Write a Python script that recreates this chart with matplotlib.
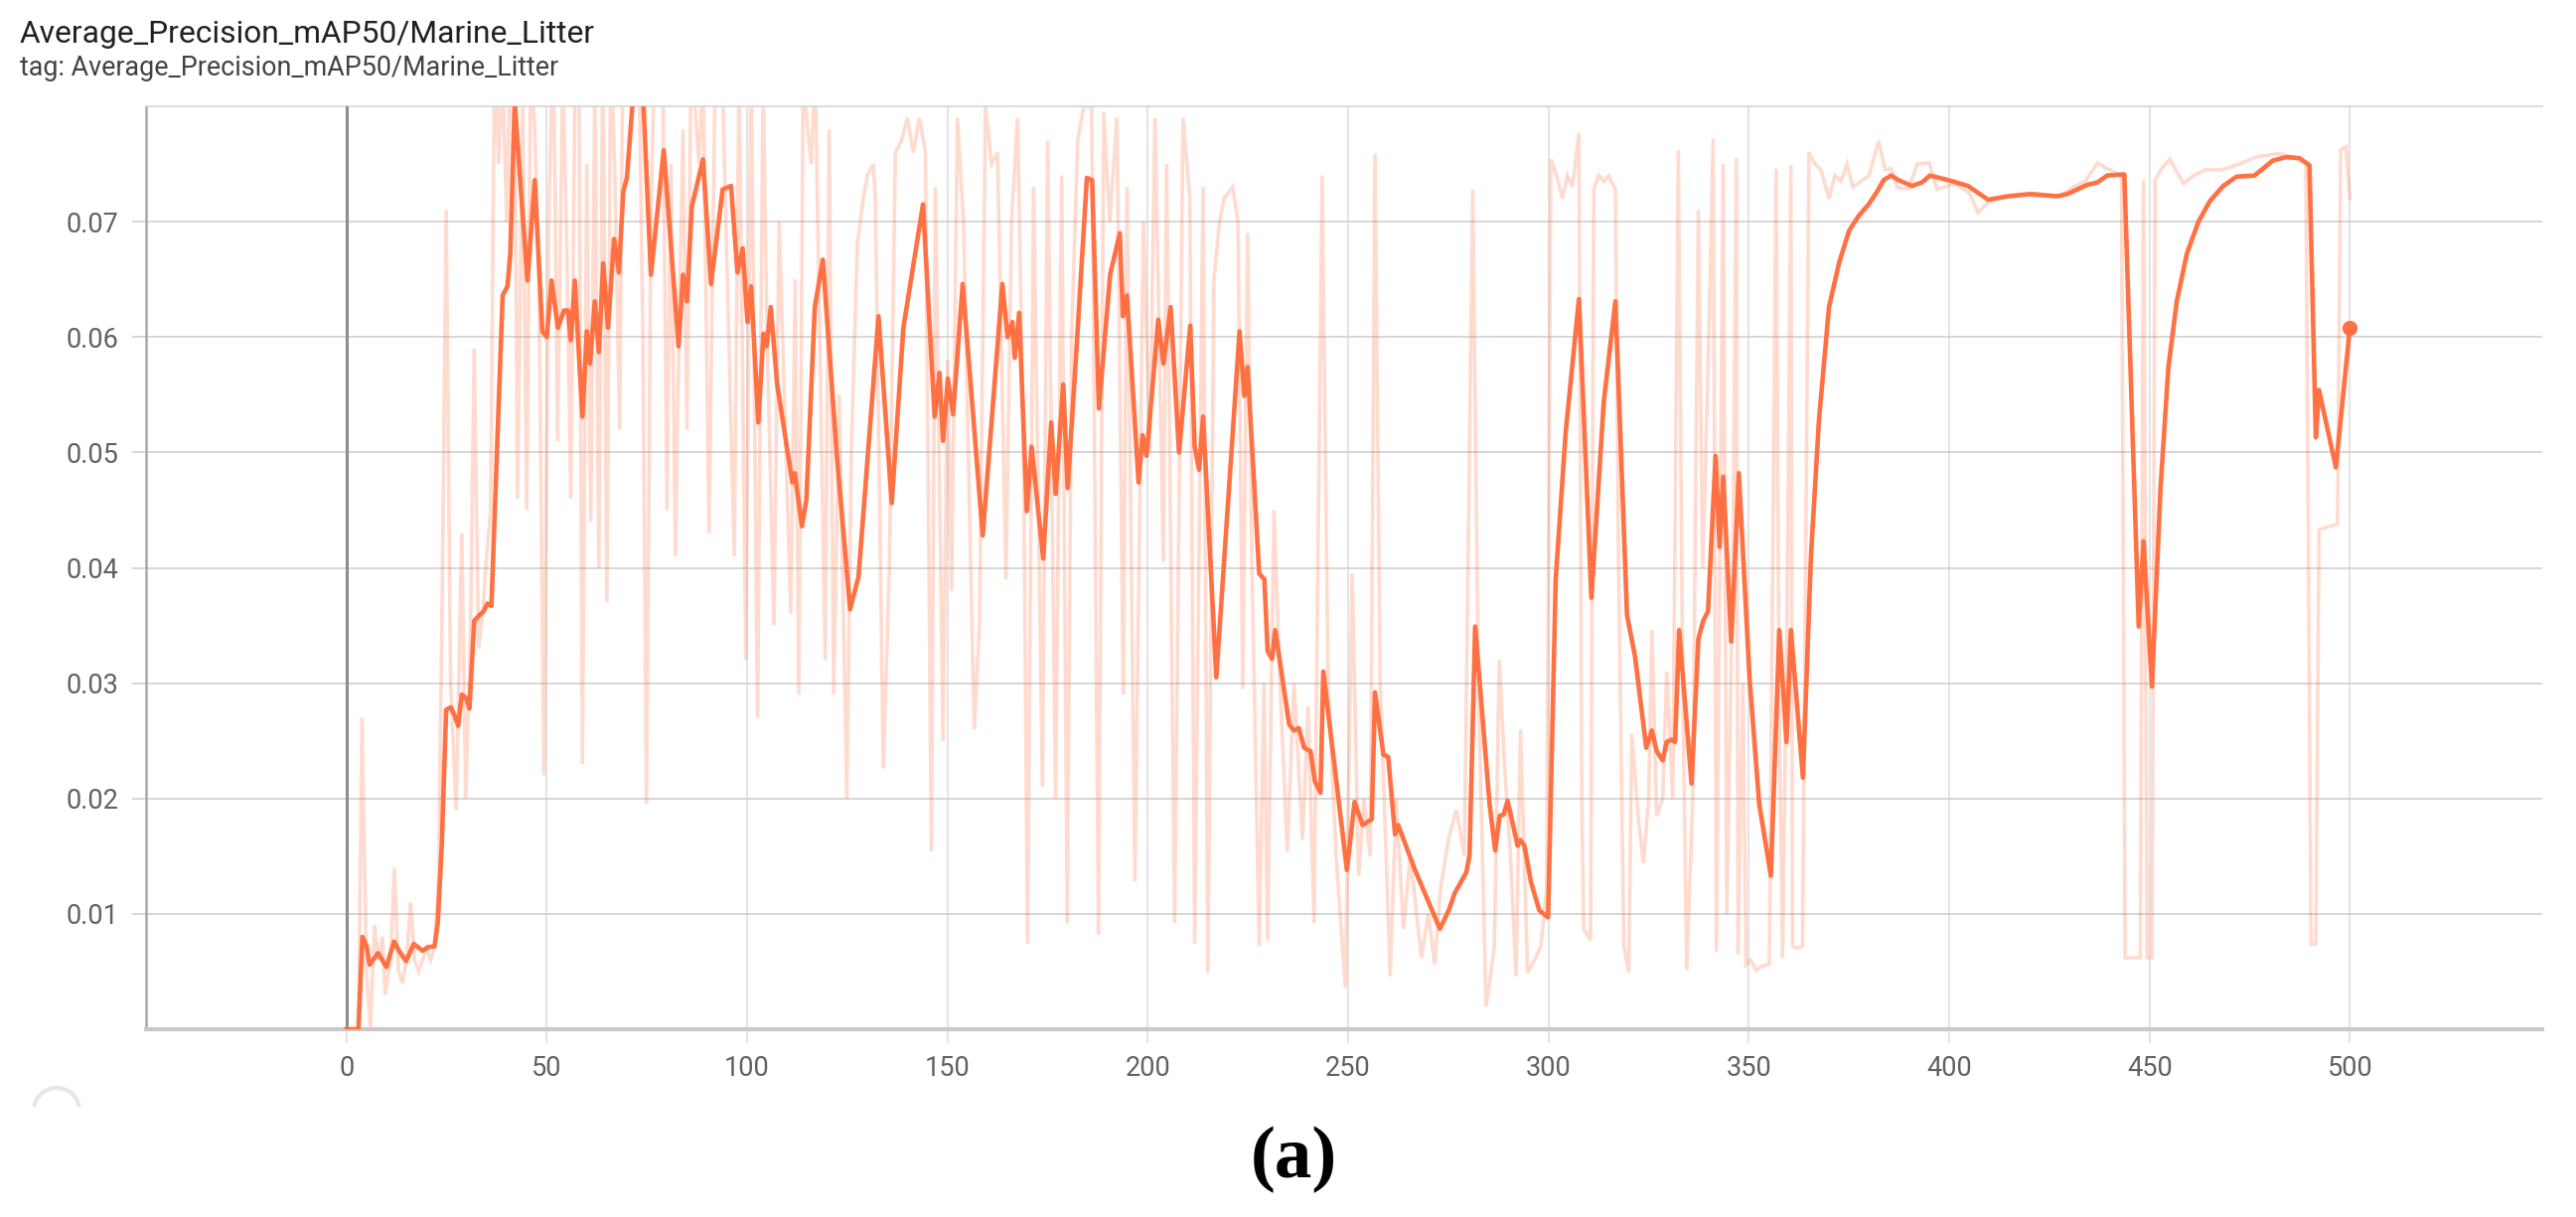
import matplotlib
matplotlib.use("Agg")
import matplotlib.pyplot as plt
from matplotlib.patches import Arc

# ---------------- data ----------------
title_text = "Average_Precision_mAP50/Marine_Litter"
tag_text = "tag: Average_Precision_mAP50/Marine_Litter"
caption_text = "(a)"

x_ticks = [0, 50, 100, 150, 200, 250, 300, 350, 400, 450, 500]
y_ticks = [0.01, 0.02, 0.03, 0.04, 0.05, 0.06, 0.07]
y_tick_labels = ["0.01", "0.02", "0.03", "0.04", "0.05", "0.06", "0.07"]

# smoothed curve: (step, value)
smoothed_points = [
    (0, 0.0), (3, 0.0), (4, 0.0080), (5, 0.0073), (5.8, 0.0056), (7.9, 0.0066), (10, 0.0054),
    (11.9, 0.0076), (13.3, 0.0067), (14.9, 0.0059), (16.8, 0.0074), (19, 0.0068), (20.3, 0.0071),
    (22, 0.0072), (22.8, 0.0092), (23.8, 0.0159), (24.9, 0.0277), (26.1, 0.0279), (27, 0.0272),
    (27.9, 0.0263), (28.8, 0.0290), (29.9, 0.0287), (30.7, 0.0278), (31.9, 0.0354), (33.2, 0.0359),
    (34.2, 0.0362), (35.2, 0.0369), (36.2, 0.0367), (37.7, 0.0513), (39, 0.0636), (40.2, 0.0644),
    (40.9, 0.0672), (42, 0.0805), (43.1, 0.0749), (45.2, 0.0649), (47, 0.0736), (48.9, 0.0605),
    (50, 0.0600), (51.2, 0.0649), (52.8, 0.0608), (54.3, 0.0623), (55.3, 0.0623), (56, 0.0597),
    (57, 0.0649), (58.9, 0.0531), (60, 0.0605), (60.8, 0.0577), (62, 0.0631), (63, 0.0587),
    (64.1, 0.0664), (65.3, 0.0608), (66.8, 0.0685), (68, 0.0656), (69.1, 0.0726), (70, 0.0738),
    (71.3, 0.0797), (72.5, 0.0860), (74.2, 0.0797), (76, 0.0654), (79.2, 0.0762), (82.9, 0.0592),
    (84, 0.0654), (85, 0.0631), (86.2, 0.0713), (89, 0.0754), (91, 0.0646), (93.9, 0.0728),
    (96, 0.0731), (97.6, 0.0656), (98.9, 0.0677), (100.1, 0.0613), (101, 0.0644), (102.8, 0.0526),
    (104.1, 0.0603), (104.9, 0.0592), (105.9, 0.0626), (107.5, 0.0559), (111.3, 0.0474),
    (111.9, 0.0482), (113.7, 0.0436), (114.8, 0.0459), (116.9, 0.0626), (118.9, 0.0667),
    (122.4, 0.0497), (125.7, 0.0364), (127.8, 0.0392), (132.8, 0.0618), (136.1, 0.0456),
    (139, 0.0608), (143.9, 0.0715), (146.8, 0.0531), (148, 0.0569), (148.9, 0.0510),
    (150.1, 0.0564), (151.4, 0.0533), (153.8, 0.0646), (158.8, 0.0428), (163.7, 0.0646),
    (165, 0.0600), (166.2, 0.0613), (166.8, 0.0582), (167.9, 0.0621), (169.8, 0.0449),
    (171, 0.0505), (173.9, 0.0408), (175.9, 0.0526), (177, 0.0464), (178.9, 0.0559),
    (180, 0.0469), (182.3, 0.0595), (184.8, 0.0738), (186.1, 0.0736), (187.8, 0.0538),
    (190.6, 0.0654), (193, 0.0690), (193.8, 0.0618), (194.8, 0.0636), (197.7, 0.0474),
    (198.7, 0.0515), (199.7, 0.0497), (202.6, 0.0615), (203.9, 0.0577), (205.7, 0.0626),
    (207.8, 0.0500), (210.6, 0.0610), (211.7, 0.0505), (212.8, 0.0485), (213.8, 0.0531),
    (217.1, 0.0305), (222.9, 0.0605), (224.1, 0.0549), (224.9, 0.0574), (227.8, 0.0395),
    (229.1, 0.0390), (229.9, 0.0328), (231, 0.0321), (231.8, 0.0346), (235.3, 0.0264),
    (236.5, 0.0259), (237.7, 0.0261), (239, 0.0244), (240.6, 0.0241), (241.7, 0.0215),
    (243.1, 0.0205), (243.8, 0.0310), (249.7, 0.0138), (251.6, 0.0197), (253.6, 0.0177),
    (255.9, 0.0182), (256.7, 0.0292), (258.8, 0.0238), (260, 0.0236), (261.7, 0.0169),
    (262.5, 0.0177), (266.7, 0.0138), (272.9, 0.0087), (275.1, 0.0103), (276.6, 0.0118),
    (279.5, 0.0136), (280.3, 0.0151), (281.7, 0.0349), (285.3, 0.0195), (286.7, 0.0155),
    (287.8, 0.0185), (288.8, 0.0186), (289.8, 0.0198), (292.3, 0.0159), (293, 0.0164),
    (294, 0.0159), (295.6, 0.0128), (297.7, 0.0103), (299.9, 0.0097), (301.8, 0.0390),
    (304.3, 0.0518), (307.6, 0.0633), (310.7, 0.0374), (313.8, 0.0544), (316.7, 0.0631),
    (319.6, 0.0359), (321.6, 0.0323), (324.4, 0.0244), (325.8, 0.0259), (327, 0.0241),
    (328.5, 0.0233), (329.5, 0.0249), (330.7, 0.0251), (331.6, 0.0249), (332.6, 0.0346),
    (335.7, 0.0213), (337.4, 0.0338), (338.6, 0.0354), (339.8, 0.0362), (341.7, 0.0497),
    (342.7, 0.0418), (343.6, 0.0479), (345.6, 0.0336), (347.5, 0.0482), (350.2, 0.0303),
    (352.6, 0.0195), (355.5, 0.0133), (357.6, 0.0346), (359.4, 0.0249), (360.5, 0.0346),
    (363.5, 0.0218), (365.5, 0.0410), (367.5, 0.0528), (370, 0.0626), (372.5, 0.0664),
    (375, 0.0692), (377.4, 0.0705), (379.9, 0.0715), (382, 0.0726), (383.6, 0.0736),
    (385.5, 0.0740), (387.4, 0.0736), (390.7, 0.0731), (393.2, 0.0734), (395.2, 0.0740),
    (399.8, 0.0736), (404.7, 0.0731), (409.7, 0.0719), (414.7, 0.0722), (420.4, 0.0724),
    (427, 0.0722), (429.5, 0.0724), (434.5, 0.0732), (437, 0.0734), (439.4, 0.0740),
    (443.7, 0.0741), (447.3, 0.0349), (448.5, 0.0423), (450.6, 0.0297), (452.7, 0.0467),
    (454.7, 0.0574), (456.8, 0.0631), (459.3, 0.0672), (462.2, 0.0700), (465.1, 0.0718),
    (468.4, 0.0731), (471.7, 0.0739), (476.2, 0.0740), (478.3, 0.0746), (480.8, 0.0753),
    (484.1, 0.0756), (487.4, 0.0755), (489.9, 0.0749), (491.5, 0.0513), (492.3, 0.0554),
    (496.5, 0.0487), (500, 0.0608),
]

# raw (unsmoothed) values: (step, value)
raw_points = [
    (0, 0.0), (2, 0.0), (3, 0.0), (3.9, 0.027), (5, 0.005), (6, 0.0), (7, 0.009), (8, 0.006),
    (9, 0.008), (9.7, 0.003), (11, 0.006), (12, 0.014), (13, 0.005), (14, 0.004), (15, 0.006),
    (16, 0.011), (17, 0.006), (18, 0.005), (19, 0.006), (20, 0.007), (21, 0.006), (22, 0.007),
    (23, 0.013), (24, 0.040), (24.9, 0.071), (26, 0.030), (27.4, 0.019), (28.8, 0.043),
    (29.8, 0.020), (31, 0.035), (31.9, 0.059), (33, 0.033), (34, 0.036), (35, 0.041), (36, 0.045),
    (37, 0.085), (38, 0.075), (39, 0.083), (40, 0.070), (41, 0.085), (42, 0.082), (42.7, 0.046),
    (44, 0.080), (45, 0.045), (46, 0.084), (47, 0.078), (48, 0.066), (49.3, 0.022), (50.5, 0.070),
    (51.5, 0.085), (52, 0.075), (52.7, 0.051), (54, 0.083), (55, 0.068), (56, 0.046), (57, 0.080),
    (58, 0.085), (58.9, 0.023), (60, 0.075), (61, 0.044), (62, 0.082), (63, 0.040), (64, 0.085),
    (65, 0.037), (66, 0.086), (67, 0.074), (68.2, 0.052), (69, 0.085), (70, 0.080), (71, 0.088),
    (72, 0.090), (73, 0.085), (74, 0.060), (74.9, 0.0195), (76, 0.070), (77, 0.086), (78, 0.080),
    (79, 0.082), (80, 0.045), (81, 0.075), (82.1, 0.041), (83, 0.060), (84, 0.078), (85, 0.052),
    (86, 0.083), (87, 0.080), (88, 0.075), (89, 0.083), (90.5, 0.043), (92, 0.082), (94, 0.080),
    (96.8, 0.041), (98, 0.083), (99.7, 0.032), (101, 0.085), (102.6, 0.027), (104, 0.082),
    (105, 0.060), (106.7, 0.035), (108, 0.070), (110.9, 0.036), (112, 0.065), (112.9, 0.029),
    (114, 0.082), (116, 0.075), (117, 0.083), (119.5, 0.032), (120.5, 0.078), (121.6, 0.029),
    (123, 0.055), (124.9, 0.020), (126, 0.050), (127.5, 0.068), (129, 0.072), (130, 0.074),
    (131.5, 0.075), (132, 0.072), (134, 0.0226), (135.5, 0.040), (137, 0.076), (138.5, 0.077),
    (140, 0.079), (141.5, 0.076), (143, 0.079), (144.5, 0.076), (146, 0.0154), (147, 0.073),
    (148.9, 0.025), (150, 0.058), (151, 0.038), (152.5, 0.079), (154, 0.070), (155.5, 0.045),
    (156.7, 0.026), (158, 0.035), (159.5, 0.080), (161, 0.075), (162.5, 0.076), (164.6, 0.039),
    (166, 0.070), (167.5, 0.079), (169, 0.050), (170, 0.0074), (171.5, 0.073), (173.7, 0.021),
    (175, 0.077), (177, 0.020), (178.5, 0.074), (179.9, 0.0092), (181, 0.060), (182.5, 0.077),
    (184, 0.080), (186, 0.080), (187.7, 0.0082), (189, 0.0795), (190.5, 0.070), (192.3, 0.079),
    (193.9, 0.029), (194.8, 0.073), (196.8, 0.0128), (198.9, 0.070), (200.5, 0.050),
    (201.8, 0.079), (203.9, 0.0405), (204.7, 0.075), (206.7, 0.0092), (208.8, 0.079),
    (210.5, 0.072), (211.7, 0.0074), (213.8, 0.073), (215, 0.0049), (216.5, 0.065),
    (217.9, 0.070), (219, 0.072), (221.2, 0.073), (222.5, 0.070), (223.7, 0.0295), (224.9, 0.069),
    (226, 0.040), (227.8, 0.0072), (229, 0.030), (229.9, 0.0077), (231.5, 0.045), (233, 0.030),
    (234.8, 0.0154), (236.5, 0.030), (238.6, 0.0164), (240, 0.028), (241.5, 0.0092),
    (243.5, 0.074), (245, 0.030), (247, 0.015), (249.3, 0.0036), (251, 0.0395), (252.6, 0.0133),
    (254, 0.020), (255.5, 0.015), (256.7, 0.0759), (258, 0.030), (260.5, 0.0046), (262, 0.020),
    (263.8, 0.0087), (265.5, 0.015), (268.3, 0.0062), (270, 0.010), (271.6, 0.0056),
    (273, 0.012), (275, 0.0164), (277, 0.019), (279, 0.015), (281.1, 0.0728), (282.5, 0.030),
    (284.4, 0.002), (285.5, 0.0045), (286.5, 0.0072), (287.7, 0.032), (289, 0.023),
    (290.5, 0.015), (291.9, 0.0046), (293, 0.026), (294.8, 0.0049), (296.5, 0.006),
    (298.1, 0.0072), (299.5, 0.012), (300.6, 0.0754), (302, 0.074), (303.5, 0.072),
    (304.7, 0.074), (306, 0.073), (307.6, 0.0777), (308.3, 0.020), (308.8, 0.0087),
    (310.5, 0.0077), (311.3, 0.0728), (312.5, 0.074), (313.8, 0.0735), (315, 0.074),
    (316.7, 0.0728), (317.5, 0.040), (318.8, 0.0072), (320, 0.0049), (320.8, 0.0256),
    (322.5, 0.018), (323.7, 0.0144), (325, 0.020), (325.8, 0.0346), (327, 0.0185),
    (328.5, 0.020), (329.5, 0.031), (331, 0.020), (332.4, 0.0762), (333.5, 0.030),
    (334.5, 0.0051), (336, 0.020), (337.4, 0.071), (338.5, 0.040), (340, 0.060), (341.1, 0.0772),
    (341.9, 0.0067), (343, 0.050), (343.6, 0.075), (344.5, 0.010), (346, 0.040), (346.9, 0.0755),
    (347.3, 0.0065), (348.5, 0.030), (349.3, 0.0056), (350.5, 0.006), (351.8, 0.0051),
    (353.5, 0.0055), (355.1, 0.0056), (356.8, 0.0746), (357.5, 0.030), (358.4, 0.0062),
    (359.5, 0.035), (360.5, 0.0749), (360.9, 0.0072), (362, 0.007), (363.4, 0.0072),
    (365, 0.076), (366.5, 0.075), (368, 0.0745), (370, 0.072), (371.5, 0.074), (373, 0.0735),
    (374.5, 0.075), (376, 0.073), (378, 0.0735), (380, 0.074), (382.4, 0.077), (384, 0.0745),
    (385.5, 0.0746), (387, 0.073), (389.8, 0.0728), (392, 0.075), (395, 0.0751), (397, 0.0728),
    (401.4, 0.0733), (405, 0.0725), (407.2, 0.0708), (410, 0.0718), (414, 0.0722),
    (418, 0.0724), (423, 0.0722), (428, 0.0723), (431, 0.073), (434, 0.0735), (437, 0.0751),
    (440, 0.0745), (443, 0.074), (443.9, 0.0062), (447.7, 0.0062), (448.5, 0.0736),
    (449.4, 0.0062), (450.6, 0.0062), (451.4, 0.0736), (453, 0.0746), (455.1, 0.0754),
    (458.5, 0.0733), (461, 0.074), (464, 0.0745), (468, 0.0745), (471.7, 0.0749),
    (476.6, 0.0756), (480, 0.0758), (482.4, 0.0759), (486, 0.0756), (489, 0.0751),
    (490.3, 0.0074), (491.5, 0.0074), (492.3, 0.0433), (496.9, 0.0438), (497.7, 0.0762),
    (499, 0.0765), (500, 0.072),
]

smooth_x = [p[0] for p in smoothed_points]
smooth_y = [p[1] for p in smoothed_points]
raw_x = [p[0] for p in raw_points]
raw_y = [p[1] for p in raw_points]

# ---------------- figure ----------------
W, H = 2593, 1225
fig = plt.figure(figsize=(W / 100, H / 100), dpi=100)
fig.patch.set_facecolor("white")

ax = fig.add_axes([147 / W, 1 - 1036 / H, (2559 - 147) / W, (1036 - 107) / H])
ax.set_xlim(-50, 548)
ax.set_ylim(0, 0.08)

line_color = "#ff7043"
ax.plot(raw_x, raw_y, color=line_color, alpha=0.25, lw=2.6, zorder=2, solid_joinstyle="miter")
ax.plot(smooth_x, smooth_y, color=line_color, lw=3.3, zorder=4, solid_joinstyle="round")
ax.plot([smooth_x[-1]], [smooth_y[-1]], "o", color=line_color, ms=10, zorder=5, clip_on=False)

# x = 0 reference line
ax.axvline(0, color="#8d8d8d", lw=2.2, zorder=3)

# grid
ax.set_xticks(x_ticks)
ax.set_xticklabels([str(t) for t in x_ticks])
ax.set_yticks(y_ticks)
ax.set_yticklabels(y_tick_labels)
ax.grid(True, axis="y", color="#cfcfcf", lw=1.2, zorder=1)
ax.grid(True, axis="x", color="#dcdcdc", lw=1.1, zorder=1)
ax.set_axisbelow(True)

ax.spines["right"].set_visible(False)
ax.spines["top"].set_color("#d6d6d6")
ax.spines["top"].set_linewidth(1.2)
ax.spines["left"].set_color("#a8a8a8")
ax.spines["left"].set_linewidth(1.8)
ax.spines["bottom"].set_color("#c9c9c9")
ax.spines["bottom"].set_linewidth(3.0)

ax.tick_params(axis="x", length=10, width=1.1, color="#dcdcdc", pad=9,
               labelsize=19.5, labelcolor="#616161")
ax.tick_params(axis="y", length=10, width=1.2, color="#cfcfcf", pad=10,
               labelsize=19.5, labelcolor="#616161")
for lab in ax.get_xticklabels() + ax.get_yticklabels():
    lab.set_family("Roboto")

# titles
fig.text(20 / W, 1 - 43 / H, title_text, family="Roboto", fontsize=22.9,
         color="#212121", ha="left", va="baseline")
fig.text(20 / W, 1 - 76 / H, tag_text, family="Roboto", fontsize=19.4,
         color="#424242", ha="left", va="baseline")

# caption
fig.text(1302 / W, 1 - 1167 / H, caption_text, family="Liberation Serif",
         fontweight="bold", fontsize=54, color="black", ha="center", va="center")

# faint control circle at bottom-left
arc = Arc((57 / W, 1 - 1118 / H), 46 / W, 46 / H, theta1=20, theta2=160,
          transform=fig.transFigure, color="#e6e6e6", lw=3)
fig.add_artist(arc)

fig.savefig("out.png", dpi=100)
